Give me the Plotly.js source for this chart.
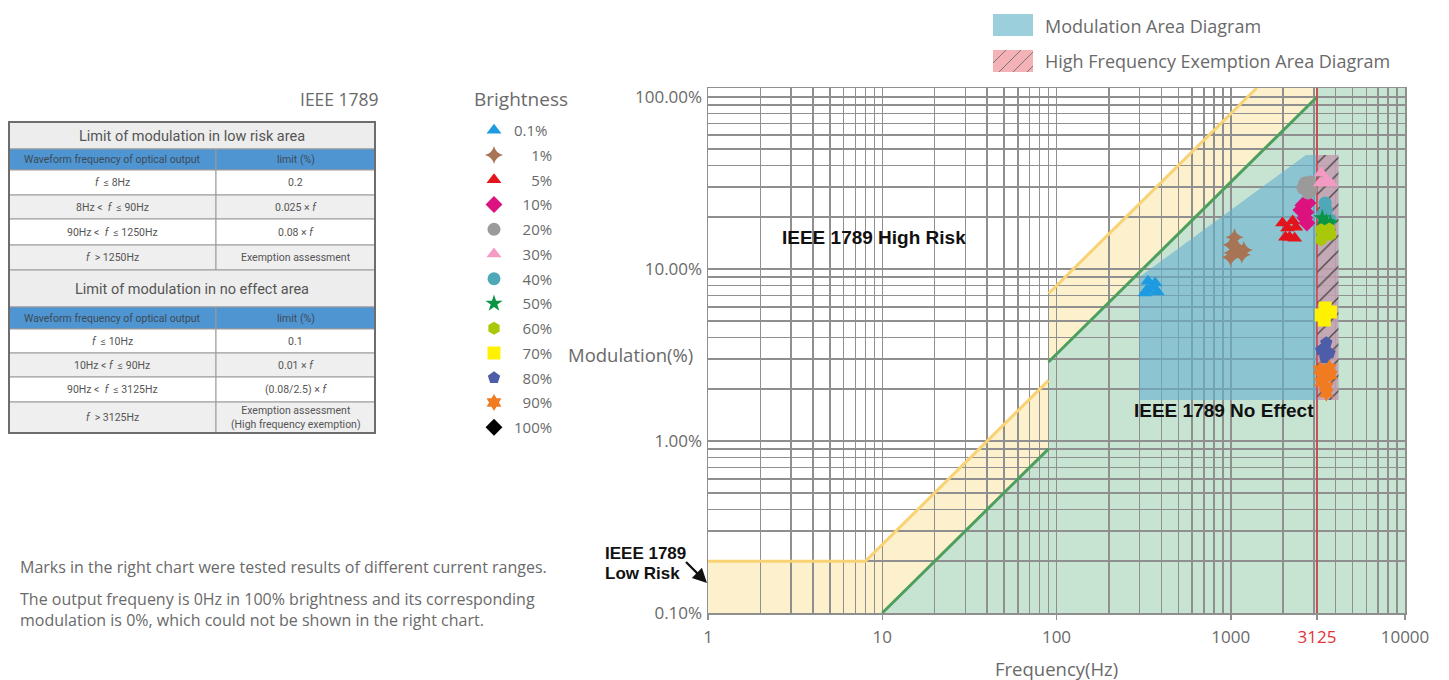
<!DOCTYPE html>
<html>
<head>
<meta charset="utf-8">
<script src="https://cdn.plot.ly/plotly-3.0.1.min.js"></script>
<style>html,body{margin:0;padding:0;background:#fff;overflow:hidden}</style>
</head>
<body>
<div id="chart" style="width:1449px;height:680px"></div>
<script>
// ---------------- DATA ----------------
const brightnessLabels = ['0.1%', '1%', '5%', '10%', '20%', '30%', '40%', '50%', '60%', '70%', '80%', '90%', '100%'];

// measured points: frequency (Hz) and modulation (%)
const freq_b0_1 = [335, 368, 331, 359, 379, 322];
const mod_b0_1  = [8.5, 8.3, 7.55, 7.86, 7.35, 7.25];
const freq_b1   = [1052, 1011, 1081, 1025, 998, 1189, 1157];
const mod_b1    = [15.3, 13.8, 13.4, 12.4, 11.7, 12.9, 12.1];
const freq_b5   = [1982, 2267, 2119, 2360, 2177, 2328, 2061];
const mod_b5    = [18.5, 19.0, 17.3, 17.5, 15.3, 15.1, 15.3];
const freq_b10  = [2594, 2774, 2524, 2700, 2663, 2736];
const mod_b10   = [23.5, 24.2, 22.0, 21.4, 19.8, 18.5];
const freq_b20  = [2663, 2849, 2594, 2889, 2774];
const mod_b20   = [31.6, 32.1, 29.6, 28.8, 27.7];
const freq_b30  = [3305, 3534, 3259, 3734];
const mod_b30   = [36.2, 32.9, 31.6, 31.6];
const freq_b40  = [3483, 3534, 3351, 3734];
const mod_b40   = [24.2, 22.0, 20.6, 19.3];
const freq_b50  = [3351, 3534, 3483, 3734];
const mod_b50   = [19.8, 18.8, 18.0, 18.5];
const freq_b60  = [3305, 3681, 3351, 3734, 3305];
const mod_b60   = [16.9, 17.1, 15.3, 15.8, 14.8];
const freq_b70  = [3483, 3734, 3305, 3443];
const mod_b70   = [5.93, 5.62, 5.40, 5.05];
const freq_b80  = [3534, 3305, 3681, 3483];
const mod_b80   = [3.72, 3.38, 3.25, 3.04];
const freq_b90  = [3259, 3681, 3351, 3734, 3305, 3534, 3534];
const mod_b90   = [2.59, 2.66, 2.36, 2.42, 2.20, 2.06, 1.90];
// 100% brightness: 0 Hz and 0 % (cannot be shown on log axes)
const freq_b100 = [0];
const mod_b100  = [0];

// IEEE 1789 limit curves
const lowRiskFreqA = [1, 8, 90];
const lowRiskModA  = [0.2, 0.2, 2.25];
const lowRiskFreqB = [90, 1250];
const lowRiskModB  = [7.2, 100];
const noEffectFreqA = [10, 90];
const noEffectModA  = [0.1, 0.9];
const noEffectFreqB = [90, 3125];
const noEffectModB  = [2.88, 100];
const exemptionFreq = 3125;

// areas
const modAreaFreq = [300, 300, 2700, 4150, 4150];
const modAreaMod  = [1.73, 9.0, 46, 46, 1.73];
const exemptAreaFreq = [3125, 3125, 4150, 4150];
const exemptAreaMod  = [1.73, 46, 46, 1.73];

// axes
const xRange = [1, 10000];
const yRange = [0.1, 112.8];
const xTickVals = [1, 10, 100, 1000, 3125, 10000];
const xTickText = ['1', '10', '100', '1000', '<span style="color:#E0343A">3125</span>', '10000'];
const yTickVals = [0.1, 1, 10, 100];
const yTickText = ['0.10%', '1.00%', '10.00%', '100.00%'];

// table
const tableHeader = ['Waveform frequency of optical output', 'limit (%)'];
const lowRiskTitle = 'Limit of modulation in low risk area';
const lowRiskRanges = ['<i>f</i>  ≤ 8Hz', '8Hz <  <i>f</i>  ≤ 90Hz', '90Hz <  <i>f</i>  ≤ 1250Hz', '<i>f</i>  > 1250Hz'];
const lowRiskLimits = ['0.2', '0.025 × <i>f</i>', '0.08 × <i>f</i>', 'Exemption assessment'];
const noEffectTitle = 'Limit of modulation in no effect area';
const noEffectRanges = ['<i>f</i>  ≤ 10Hz', '10Hz < <i>f</i>  ≤ 90Hz', '90Hz <  <i>f</i>  ≤ 3125Hz', '<i>f</i>  > 3125Hz'];
const noEffectLimits = ['0.1', '0.01 × <i>f</i>', '(0.08/2.5) × <i>f</i>', 'Exemption assessment<br>(High frequency exemption)'];

// ---------------- STYLE ----------------
const W = 1449, H = 680;
const px = x => x / W;
const py = y => 1 - y / H;
const GRID = '#8f8f8f';
const TXT = '#6a6a6a';
const FONT = '"Open Sans", Roboto, sans-serif';
const TFONT = 'Roboto, "Open Sans", sans-serif';
const BOLD = '"Liberation Sans", Arial, sans-serif';

const seriesFreq = [freq_b0_1, freq_b1, freq_b5, freq_b10, freq_b20, freq_b30, freq_b40, freq_b50, freq_b60, freq_b70, freq_b80, freq_b90, freq_b100];
const seriesMod  = [mod_b0_1, mod_b1, mod_b5, mod_b10, mod_b20, mod_b30, mod_b40, mod_b50, mod_b60, mod_b70, mod_b80, mod_b90, mod_b100];
const seriesColor = ['#1E9BE0', '#A87456', '#E2141C', '#DC127F', '#9A9A9A', '#F39BC3', '#4FA8B8', '#0B9444', '#A9C80A', '#FFF200', '#4E5DA8', '#F07B21', '#000000'];
const seriesSymbol = ['triangle-up', 'star-diamond', 'triangle-up', 'diamond', 'circle', 'triangle-up', 'circle', 'star', 'hexagon', 'square', 'pentagon', 'hexagram', 'diamond'];
const legendPad = ['', '\u2007\u2007', '\u2007\u2007', '\u2007', '\u2007', '\u2007', '\u2007', '\u2007', '\u2007', '\u2007', '\u2007', '\u2007', ''];

// extend last segment of a limit line to the top of the y range
function extendToTop(fs, ms, top) {
  const n = fs.length;
  const slope = Math.log(fs[n-1] / fs[n-2]) / Math.log(ms[n-1] / ms[n-2]);
  return fs[n-1] * Math.pow(top / ms[n-1], slope);
}
const lowRiskTopF = extendToTop(lowRiskFreqB, lowRiskModB, yRange[1]);

function pathOf(xs, ys) {
  return xs.map((x, i) => (i ? 'L' : 'M') + x + ',' + ys[i]).join('') + 'Z';
}
const yellowPath = pathOf(
  [xRange[0]].concat(lowRiskFreqA, lowRiskFreqB, [lowRiskTopF, xRange[1], xRange[1]]),
  [yRange[0]].concat(lowRiskModA, lowRiskModB, [yRange[1], yRange[1], yRange[0]]));
const greenPath = pathOf(
  noEffectFreqA.concat(noEffectFreqB, [exemptionFreq, xRange[1], xRange[1]]),
  noEffectModA.concat(noEffectModB, [yRange[1], yRange[1], yRange[0]]));

const traces = [];

// modulation area
traces.push({type: 'scatter', mode: 'lines', x: modAreaFreq, y: modAreaMod, fill: 'toself',
  fillcolor: 'rgba(100,176,209,0.6)', line: {width: 0}, showlegend: false, hoverinfo: 'skip'});
// high frequency exemption area
traces.push({type: 'scatter', mode: 'lines', x: exemptAreaFreq, y: exemptAreaMod, fill: 'toself',
  fillcolor: 'rgba(232,150,162,0.6)', line: {width: 0},
  fillpattern: {shape: '/', fgcolor: '#444', bgcolor: 'rgba(232,150,162,0.6)', size: 11, solidity: 0.12},
  showlegend: false, hoverinfo: 'skip'});
// limit lines
traces.push({type: 'scatter', mode: 'lines',
  x: lowRiskFreqA.concat([null], lowRiskFreqB, [lowRiskTopF]),
  y: lowRiskModA.concat([null], lowRiskModB, [yRange[1]]),
  line: {color: '#F8D273', width: 3}, connectgaps: false, showlegend: false, hoverinfo: 'skip'});
traces.push({type: 'scatter', mode: 'lines',
  x: noEffectFreqA.concat([null], noEffectFreqB),
  y: noEffectModA.concat([null], noEffectModB),
  line: {color: '#4E9F5E', width: 3}, connectgaps: false, showlegend: false, hoverinfo: 'skip'});
traces.push({type: 'scatter', mode: 'lines', x: [exemptionFreq, exemptionFreq], y: yRange,
  line: {color: '#E0343A', width: 1.3}, showlegend: false, hoverinfo: 'skip'});

// brightness markers
brightnessLabels.forEach((lab, i) => {
  traces.push({type: 'scatter', mode: 'markers', name: legendPad[i] + lab, legendgroup: 'g' + i,
    x: seriesFreq[i], y: seriesMod[i],
    marker: {symbol: seriesSymbol[i], color: seriesColor[i], size: 13, line: {width: 0}},
    showlegend: true});
});

const shapes = [
  {type: 'path', xref: 'x', yref: 'y', path: yellowPath, fillcolor: '#FDF0CC', line: {width: 0}, layer: 'below'},
  {type: 'path', xref: 'x', yref: 'y', path: greenPath, fillcolor: '#C7E4D3', line: {width: 0}, layer: 'below'},
  // area legend swatches
  {type: 'rect', xref: 'paper', yref: 'paper', x0: px(993), x1: px(1033), y0: py(36), y1: py(14),
    fillcolor: '#9CCFDC', line: {width: 0}},
  {type: 'rect', xref: 'paper', yref: 'paper', x0: px(993), x1: px(1033), y0: py(72), y1: py(50),
    fillcolor: '#F4B2B6', line: {width: 0}},
];
[[993, 63, 1006, 50], [999, 72, 1021, 50], [1013, 72, 1033, 52], [1027, 72, 1033, 66]].forEach(s => {
  shapes.push({type: 'line', xref: 'paper', yref: 'paper', x0: px(s[0]), y0: py(s[1]), x1: px(s[2]), y1: py(s[3]),
    line: {color: '#777', width: 1}});
});

function note(text, x, y, font, xanchor, extra) {
  return Object.assign({text: text, x: px(x), y: py(y), xref: 'paper', yref: 'paper', showarrow: false,
    xanchor: xanchor || 'center', yanchor: 'middle', font: font}, extra || {});
}
const fMain = {family: FONT, size: 18.5, color: TXT};
const annotations = [
  note('IEEE 1789', 339, 99, {family: FONT, size: 17.5, color: TXT}),
  note('Brightness', 521, 99, {family: FONT, size: 19, color: TXT}),
  note('Modulation Area Diagram', 1043, 26, {family: FONT, size: 18, color: TXT}, 'left'),
  note('High Frequency Exemption Area Diagram', 1043, 61, {family: FONT, size: 18, color: TXT}, 'left'),
  note('Modulation(%)', 630, 354, fMain),
  note('Frequency(Hz)', 1056, 668, fMain),
  note('<b>IEEE 1789 High Risk</b>', 874, 237, {family: BOLD, size: 19, color: '#111'}),
  note('<b>IEEE 1789 No Effect</b>', 1224, 410, {family: BOLD, size: 19, color: '#111'}),
  note('<b>IEEE 1789</b>', 603, 553, {family: BOLD, size: 17, color: '#111'}, 'left'),
  note('<b>Low Risk</b>', 603, 573, {family: BOLD, size: 17, color: '#111'}, 'left'),
  {text: ' ', x: px(707), y: py(583), xref: 'paper', yref: 'paper', xanchor: 'center', yanchor: 'middle',
    showarrow: true, ax: -24, ay: -24, arrowhead: 2, arrowsize: 1.3, arrowwidth: 2.2, arrowcolor: '#111'},
  note('Marks in the right chart were tested results of different current ranges.', 18, 567,
    {family: FONT, size: 16, color: TXT}, 'left'),
  note('The output frequeny is 0Hz in 100% brightness and its corresponding<br>modulation is 0%, which could not be shown in the right chart.',
    18, 609.5, {family: FONT, size: 16, color: TXT}, 'left', {align: 'left'}),
];

// ---------- table (cells built from the table arrays) ----------
const tableLeft = 9, tableRight = 375, tableSplit = 216, tableTop = 122;
const sections = [
  {title: lowRiskTitle, ranges: lowRiskRanges, limits: lowRiskLimits, titleH: 27, headH: 21, rowH: [25, 24, 26, 25]},
  {title: noEffectTitle, ranges: noEffectRanges, limits: noEffectLimits, titleH: 37, headH: 22, rowH: [24, 24, 25, 31]}
];
const rowFill = ['#FFFFFF', '#EFEFEF', '#FFFFFF', '#EFEFEF'];
const CELL_LINE = {color: '#9a9a9a', width: 1};
function cellRect(x0, x1, y0, y1, fill) {
  shapes.push({type: 'rect', xref: 'paper', yref: 'paper', x0: px(x0), x1: px(x1), y0: py(y1), y1: py(y0),
    fillcolor: fill, line: CELL_LINE});
}
let yCur = tableTop;
sections.forEach(sec => {
  cellRect(tableLeft, tableRight, yCur, yCur + sec.titleH, '#EDEDED');
  annotations.push(note(sec.title, (tableLeft + tableRight) / 2, yCur + sec.titleH / 2 + 1,
    {family: TFONT, size: 14.5, color: '#555'}));
  yCur += sec.titleH;
  cellRect(tableLeft, tableSplit, yCur, yCur + sec.headH, '#4E95D2');
  cellRect(tableSplit, tableRight, yCur, yCur + sec.headH, '#4E95D2');
  annotations.push(note(tableHeader[0], (tableLeft + tableSplit) / 2, yCur + sec.headH / 2,
    {family: TFONT, size: 10.5, color: '#3f4a55'}));
  annotations.push(note(tableHeader[1], (tableSplit + tableRight) / 2, yCur + sec.headH / 2,
    {family: TFONT, size: 10.5, color: '#3f4a55'}));
  yCur += sec.headH;
  sec.ranges.forEach((r, i) => {
    const h = sec.rowH[i];
    cellRect(tableLeft, tableSplit, yCur, yCur + h, rowFill[i]);
    cellRect(tableSplit, tableRight, yCur, yCur + h, rowFill[i]);
    annotations.push(note(r, (tableLeft + tableSplit) / 2, yCur + h / 2, {family: TFONT, size: 10.5, color: '#555'}));
    annotations.push(note(sec.limits[i], (tableSplit + tableRight) / 2, yCur + h / 2,
      {family: TFONT, size: 10.5, color: '#555'}));
    yCur += h;
  });
});
shapes.push({type: 'rect', xref: 'paper', yref: 'paper', x0: px(tableLeft), x1: px(tableRight), y0: py(yCur), y1: py(tableTop),
  line: {color: '#6d6d6d', width: 2}, fillcolor: 'rgba(0,0,0,0)'});

const axisCommon = {
  type: 'log', showgrid: true, gridcolor: GRID, gridwidth: 1.5,
  minor: {dtick: 'D1', showgrid: true, gridcolor: GRID, gridwidth: 1.5, ticks: ''},
  showline: true, linecolor: GRID, linewidth: 1.5, mirror: true, zeroline: false, fixedrange: true,
  tickmode: 'array', tickfont: {family: FONT, size: 17, color: TXT}
};

const layout = {
  width: W, height: H, margin: {l: 0, r: 0, t: 0, b: 0},
  paper_bgcolor: '#fff', plot_bgcolor: '#fff',
  font: {family: FONT, color: TXT},
  xaxis: Object.assign({}, axisCommon, {
    domain: [px(708), px(1405)], range: [Math.log10(xRange[0]), Math.log10(xRange[1])],
    tickvals: xTickVals, ticktext: xTickText, ticks: 'outside', ticklen: 5, tickcolor: GRID, tickwidth: 1.5,
    ticklabelstandoff: 3}),
  yaxis: Object.assign({}, axisCommon, {
    domain: [py(613), py(88)], range: [Math.log10(yRange[0]), Math.log10(yRange[1])],
    tickvals: yTickVals, ticktext: yTickText, ticks: '', ticklabelstandoff: 1}),
  legend: {x: px(474), xanchor: 'left', y: py(114), yanchor: 'top', bgcolor: 'rgba(0,0,0,0)',
    font: {family: FONT, size: 15, color: TXT}, tracegroupgap: 2.25},
  shapes: shapes,
  annotations: annotations,
  hovermode: false
};

Plotly.newPlot('chart', traces, layout, {displayModeBar: false, staticPlot: true});
</script>
</body>
</html>
